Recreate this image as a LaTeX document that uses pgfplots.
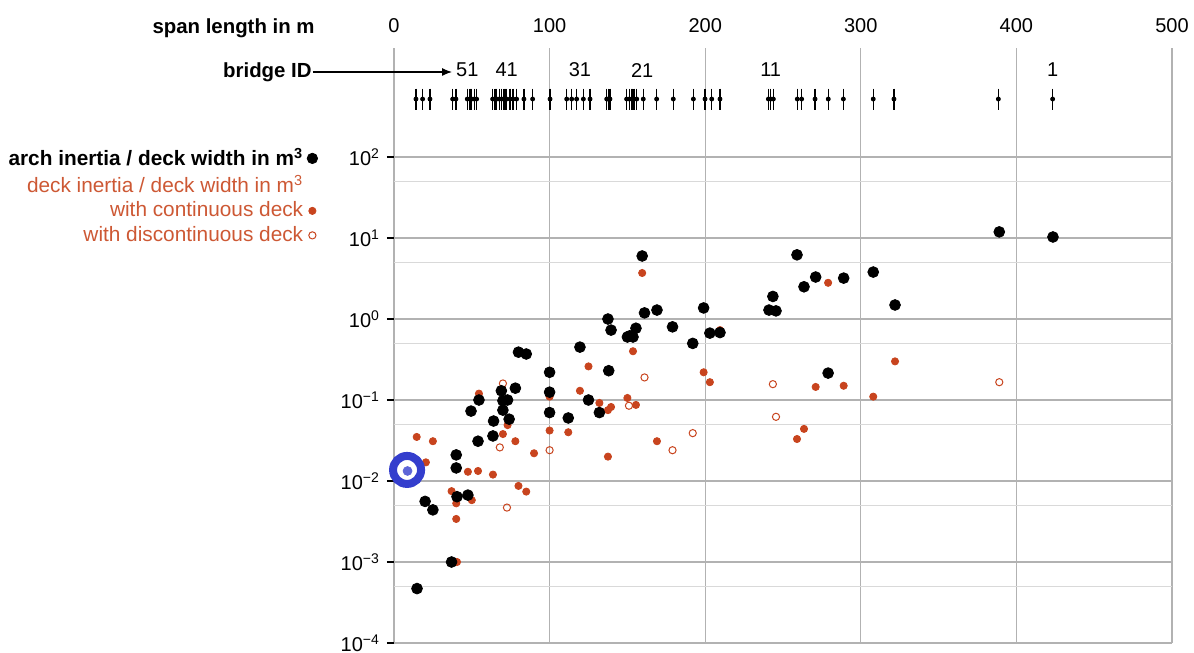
\documentclass[border=0pt]{standalone}
\usepackage{fontspec}
\setmainfont{Liberation Sans}
\usepackage{pgfplots}
\usepackage{pgfplotstable}
\pgfplotsset{compat=1.18}
\usetikzlibrary{arrows.meta}
\definecolor{dk}{RGB}{200,68,30}
\definecolor{dktext}{RGB}{205,88,52}
\definecolor{hl}{RGB}{52,62,205}

\pgfplotstableread{
x y
14.1 520
18.4 520
23.1 520
37.7 520
39.8 520
47.1 520
48.8 520
49.9 520
51.6 520
53.1 520
63.4 520
65.0 520
66.0 520
67.7 520
69.2 520
70.7 520
71.5 520
72.4 520
74.6 520
76.5 520
78.8 520
83.5 520
89.1 520
100.3 520
111.0 520
114.2 520
117.4 520
121.7 520
126.0 520
136.7 520
137.7 520
138.8 520
149.5 520
151.2 520
152.7 520
153.4 520
154.2 520
156.0 520
160.2 520
168.8 520
179.5 520
192.4 520
199.9 520
204.2 520
209.5 520
240.6 520
242.1 520
243.8 520
259.2 520
262.0 520
270.6 520
279.1 520
288.8 520
308.0 520
321.3 520
388.4 520
423.3 520
}\bridges

\pgfplotstableread{
x y
14.8 4.7e-4
20 0.0056
25 0.0044
37 1.0e-3
40 0.021
40 0.0145
40.5 0.0064
47.5 0.0067
49.5 0.073
54 0.031
54.6 0.10
63.6 0.036
64 0.055
69 0.13
70 0.098
70 0.075
73 0.10
74 0.058
78 0.14
80 0.39
85 0.37
100 0.22
100 0.125
100 0.07
112 0.06
119.5 0.45
125 0.10
132 0.07
137.5 1.0
138 0.23
139.5 0.73
150 0.60
151.5 0.62
153.6 0.60
155.5 0.77
159.5 6.0
161 1.19
169 1.29
179 0.80
192 0.50
199 1.37
203 0.67
209.5 0.68
241 1.29
243.5 1.9
245.5 1.26
259 6.2
263.5 2.5
271 3.3
279 0.215
289 3.2
308 3.8
322 1.49
389 11.9
423.5 10.3
}\arch

\pgfplotstableread{
x y
14.6 0.035
25 0.031
20.5 0.017
47.5 0.013
54 0.0133
63.6 0.012
37 0.0075
40 0.0053
50 0.0058
40 0.0034
40.5 1.0e-3
80 0.0087
85 0.0074
70 0.038
78 0.031
73 0.049
90 0.022
54.6 0.12
100 0.11
100 0.042
112 0.04
119.5 0.13
125 0.26
132 0.092
137.5 0.075
139.5 0.082
150 0.106
155.5 0.087
153.6 0.40
137.5 0.020
159.5 3.7
199 0.22
203 0.166
209.5 0.73
169 0.031
279 2.8
271 0.145
289 0.15
308 0.11
322 0.30
263.5 0.044
259 0.033
}\cont

\pgfplotstableread{
x y
70 0.16
68 0.026
100 0.024
72.6 0.0047
151 0.085
161 0.19
179 0.024
192 0.039
243.5 0.157
245.5 0.062
389 0.166
}\disc

\pgfplotsset{legmark/.style={legend image code/.code={\draw[##1] plot coordinates {(0pt,0pt)};}}}

\begin{document}
\begin{tikzpicture}
\path[use as bounding box] (-197pt,-5pt) rectangle (400pt,321.5pt);
\begin{axis}[
  at={(0,0)}, anchor=south west,
  width=389pt, height=297.5pt, scale only axis,
  xmin=0, xmax=500,
  ymode=log, log basis y=10, ymin=1e-4, ymax=2218,
  clip=false,
  axis line style={draw=none},
  xtick={0,100,...,500}, xticklabel pos=upper, xtick style={draw=none},
  ytick={1e-4,1e-3,1e-2,1e-1,1,10,100},
  yticklabels={10\textsuperscript{−4},10\textsuperscript{−3},10\textsuperscript{−2},10\textsuperscript{−1},10\textsuperscript{0},10\textsuperscript{1},10\textsuperscript{2}},
  minor ytick={5e-4,5e-3,5e-2,0.5,5,50},
  ytick pos=left, tick align=outside, major tick length=3.5pt, minor tick length=0pt,
  ytick style={black, line width=0.6pt},
  grid=both,
  major grid style={draw=black!30, line width=0.6pt},
  minor grid style={draw=black!15, line width=0.6pt},
  /pgf/number format/assume math mode=true,
  tick label style={font=\fontsize{10}{12}\selectfont},
  xticklabel style={yshift=0.5pt},
  legend style={at={(rel axis cs:-0.0977,0.839)}, anchor=north east, draw=none, fill=none,
    font=\fontsize{10.4}{12}\selectfont, inner sep=0pt, row sep=-0.8pt},
  legend cell align=right, legend plot pos=right,
]
\addlegendimage{only marks, mark=*, black, mark size=2.6pt, legmark}
\addlegendentry{\textbf{arch inertia / deck width in m\textsuperscript{3}}}
\addlegendimage{empty legend}
\addlegendentry{\textcolor{dktext}{deck inertia / deck width in m\textsuperscript{3}}}
\addlegendimage{only marks, mark=*, dk, mark size=1.8pt, legmark}
\addlegendentry{\textcolor{dktext}{with continuous deck}}
\addlegendimage{only marks, mark=o, dk, mark size=1.8pt, mark options={fill=white, line width=0.5pt}, legmark}
\addlegendentry{\textcolor{dktext}{with discontinuous deck}}

\addplot[forget plot, only marks, mark=|, mark size=5.25pt, mark options={line width=0.7pt}] table {\bridges};
\addplot[forget plot, only marks, mark=*, mark size=1pt] table {\bridges};

\addplot[forget plot, only marks, mark=*, dk, mark size=1.8pt] table {\cont};
\addplot[forget plot, only marks, mark=o, dk, mark size=1.8pt, mark options={fill=white, line width=0.5pt}] table {\disc};
\addplot[forget plot, only marks, mark=*, black, mark size=2.7pt] table {\arch};

\addplot[forget plot, only marks, mark=o, hl, mark size=7pt, mark options={line width=4pt, fill=white}] coordinates {(8.4,0.0137)};
\addplot[forget plot, only marks, mark=*, hl!80!white, mark size=2.2pt] coordinates {(8.7,0.0133)};

\node[font=\fontsize{10}{12}\selectfont] at (axis cs:47.1,1186) {51};
\node[font=\fontsize{10}{12}\selectfont] at (axis cs:72.4,1186) {41};
\node[font=\fontsize{10}{12}\selectfont] at (axis cs:119.5,1186) {31};
\node[font=\fontsize{10}{12}\selectfont] at (axis cs:159.5,1186) {21};
\node[font=\fontsize{10}{12}\selectfont] at (axis cs:242.1,1186) {11};
\node[font=\fontsize{10}{12}\selectfont] at (axis cs:423.3,1186) {1};
\end{axis}
\node[anchor=east, font=\bfseries\fontsize{10.2}{12}\selectfont, inner sep=0pt] at (-39.5pt,307.5pt) {span length in m};
\node[anchor=east, font=\bfseries\fontsize{10.2}{12}\selectfont, inner sep=0pt] at (-41pt,285.5pt) {bridge ID};
\draw[-{Latex[length=5pt,width=4pt]}, line width=0.6pt] (-40.5pt,285.5pt) -- (29pt,285.5pt);
\end{tikzpicture}
\end{document}
